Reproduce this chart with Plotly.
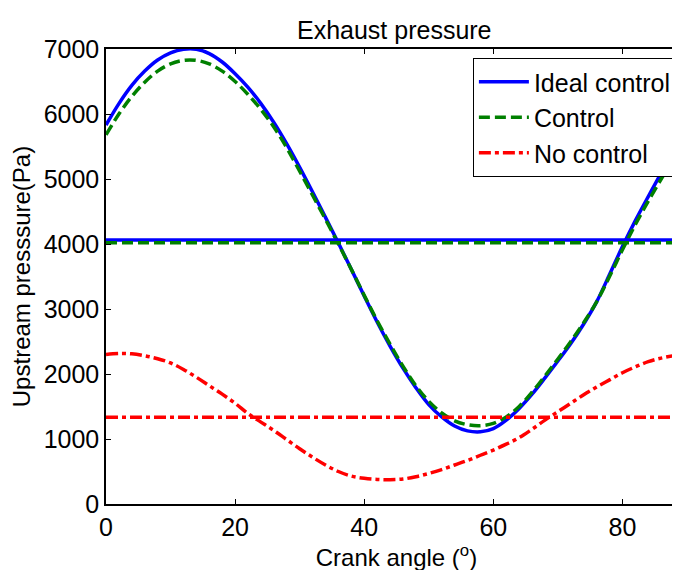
import plotly.graph_objects as go

# Crank angle samples (deg) and values
ideal_x = [0, 2, 4, 6, 8, 10, 12, 14, 16, 18, 20, 22, 24, 26, 28, 30, 32, 34, 36, 38, 40, 42,
           44, 46, 48, 50, 52, 54, 56, 58, 60, 62, 64, 66, 68, 70, 72, 74, 76, 78, 80, 82, 84,
           86, 88, 90]
ideal_y = [5830, 6160, 6440, 6660, 6830, 6940, 6995, 6995, 6930, 6800, 6620, 6410, 6160, 5870,
           5540, 5180, 4800, 4410, 4015, 3610, 3200, 2800, 2430, 2090, 1790, 1530, 1340, 1200,
           1125, 1110, 1160, 1290, 1470, 1690, 1940, 2200, 2470, 2770, 3110, 3530, 3960, 4360,
           4730, 5090, 5430, 5750]

ctrl_x = ideal_x
ctrl_y = [5680, 6000, 6270, 6490, 6660, 6770, 6825, 6825, 6770, 6660, 6500, 6300, 6070, 5800,
          5480, 5120, 4750, 4380, 4000, 3610, 3210, 2820, 2460, 2120, 1820, 1580, 1400, 1280,
          1220, 1205, 1240, 1340, 1500, 1720, 1970, 2230, 2500, 2790, 3110, 3500, 3910, 4300,
          4660, 5000, 5320, 5620]

noctrl_x = ideal_x
noctrl_y = [2300, 2315, 2310, 2280, 2235, 2170, 2070, 1950, 1820, 1690, 1550, 1390, 1260, 1130,
            990, 850, 720, 600, 500, 430, 395, 378, 375, 385, 420, 470, 530, 600, 670, 750,
            830, 920, 1020, 1150, 1290, 1420, 1550, 1680, 1800, 1910, 2020, 2110, 2190, 2245,
            2280, 2300]

mean_x = [0, 90]
ideal_mean = 4060
ctrl_mean = 4020
noctrl_mean = 1335

BLUE = "#0000FF"
GREEN = "#008000"
RED = "#FF0000"
LW = 3.5
DASH = "11px,5px"
DASHDOT = "12px,4px,4px,4px"

fig = go.Figure()
fig.add_trace(go.Scatter(x=ideal_x, y=ideal_y, mode="lines", name="Ideal control",
                         line=dict(color=BLUE, width=LW, shape="spline", smoothing=1.0),
                         legendgroup="a"))
fig.add_trace(go.Scatter(x=ctrl_x, y=ctrl_y, mode="lines", name="Control",
                         line=dict(color=GREEN, width=LW, dash=DASH, shape="spline",
                                   smoothing=1.0), legendgroup="b"))
fig.add_trace(go.Scatter(x=noctrl_x, y=noctrl_y, mode="lines", name="No control",
                         line=dict(color=RED, width=LW, dash=DASHDOT,
                                   shape="spline", smoothing=1.0), legendgroup="c"))
fig.add_trace(go.Scatter(x=mean_x, y=[ideal_mean] * 2, mode="lines", showlegend=False,
                         line=dict(color=BLUE, width=LW), legendgroup="a"))
fig.add_trace(go.Scatter(x=mean_x, y=[ctrl_mean] * 2, mode="lines", showlegend=False,
                         line=dict(color=GREEN, width=LW, dash=DASH), legendgroup="b"))
fig.add_trace(go.Scatter(x=mean_x, y=[noctrl_mean] * 2, mode="lines", showlegend=False,
                         line=dict(color=RED, width=LW, dash=DASHDOT), legendgroup="c"))

FONT = "Liberation Sans, Arial, sans-serif"
# the page places the figure 8px in from the top-left corner of the window
OFF = 8
W, H = 680, 570
L, T, R = 105.5 - OFF, 49 - OFF, 1
B = H - (504 - OFF)
PW = W - L - R
PH = H - T - B

fig.update_layout(
    width=W, height=H,
    margin=dict(l=L, r=R, t=T, b=B, autoexpand=False),
    paper_bgcolor="white", plot_bgcolor="white",
    font=dict(family=FONT, size=25, color="black"),
    title=dict(text="Exhaust pressure", x=(394 - OFF - L) / PW, xref="paper",
               xanchor="center", y=1 - (30 - OFF) / H, yref="container", yanchor="middle",
               font=dict(size=25, color="black")),
    xaxis=dict(range=[0, 90], tickvals=[0, 20, 40, 60, 80], ticks="inside", ticklen=5,
               tickcolor="black", showline=True, linecolor="black", linewidth=1.5,
               mirror="ticks", showgrid=False, zeroline=False, automargin=False,
               title=dict(text="Crank angle (<sup>o</sup>)", standoff=8,
                          font=dict(size=24))),
    yaxis=dict(range=[0, 7000], tickvals=[0, 1000, 2000, 3000, 4000, 5000, 6000, 7000],
               ticks="inside", ticklen=5, tickcolor="black", showline=True,
               linecolor="black", linewidth=1.5, mirror="ticks", showgrid=False,
               zeroline=False, automargin=False,
               title=dict(text="Upstream presssure(Pa)", standoff=8, font=dict(size=24))),
    legend=dict(x=(472.7 - OFF - L) / PW, xanchor="left", y=1 - (58 - 49) / PH,
                yanchor="top", bgcolor="white", bordercolor="black", borderwidth=1,
                font=dict(size=25), itemwidth=50, tracegroupgap=0),
    showlegend=True,
)

fig.write_html("out.html")
